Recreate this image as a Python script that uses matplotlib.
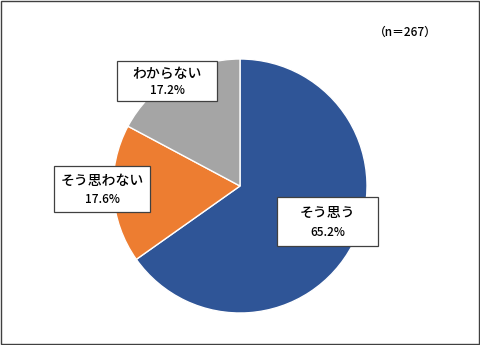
import matplotlib
matplotlib.use("Agg")
import matplotlib.pyplot as plt
from matplotlib.patches import Rectangle

plt.rcParams['font.family'] = ['Noto Sans CJK JP', 'DejaVu Sans']

categories = ["そう思う", "そう思わない", "わからない"]
values = [65.2, 17.6, 17.2]
colors = ["#2F5597", "#ED7D31", "#A5A5A5"]
sample_note = "（n＝267）"

# label box centers (data units, pie radius = 1) and box sizes
label_pos = [(0.69, -0.28), (-1.087, -0.024), (-0.575, 0.827)]
box_size = [(0.79, 0.38), (0.76, 0.36), (0.79, 0.32)]

fig = plt.figure(figsize=(4.8, 3.45), dpi=100)
ax = fig.add_axes([0, 0, 1, 1])
R = 127.0

ax.pie(values, colors=colors, startangle=90, counterclock=False,
       radius=1.0, center=(0, 0),
       wedgeprops=dict(edgecolor='white', linewidth=1.0))
ax.set_xlim(-240 / R, 240 / R)
ax.set_ylim(-159 / R, 186 / R)
ax.set_aspect('equal')
ax.axis('off')

for cat, val, (cx, cy), (w, h) in zip(categories, values, label_pos, box_size):
    ax.add_patch(Rectangle((cx - w / 2, cy - h / 2), w, h, facecolor='white',
                           edgecolor='#404040', linewidth=0.9, zorder=5))
    ax.text(cx, cy + h * 0.17, cat, ha='center', va='center', fontsize=10,
            fontweight='medium', color='black', zorder=6)
    ax.text(cx, cy - h * 0.23, f"{val:.1f}%", ha='center', va='center',
            fontsize=8.5, fontweight='medium', color='black', zorder=6)

fig.text(405 / 480, 1 - 32 / 345, sample_note, ha='center', va='center',
         fontsize=8.5, fontweight='medium', color='black')

fig.patches.append(Rectangle((0.002, 0.003), 0.996, 0.994, transform=fig.transFigure,
                             fill=False, edgecolor='#404040', linewidth=1.0))

fig.savefig("out.png", dpi=100, facecolor='white')
